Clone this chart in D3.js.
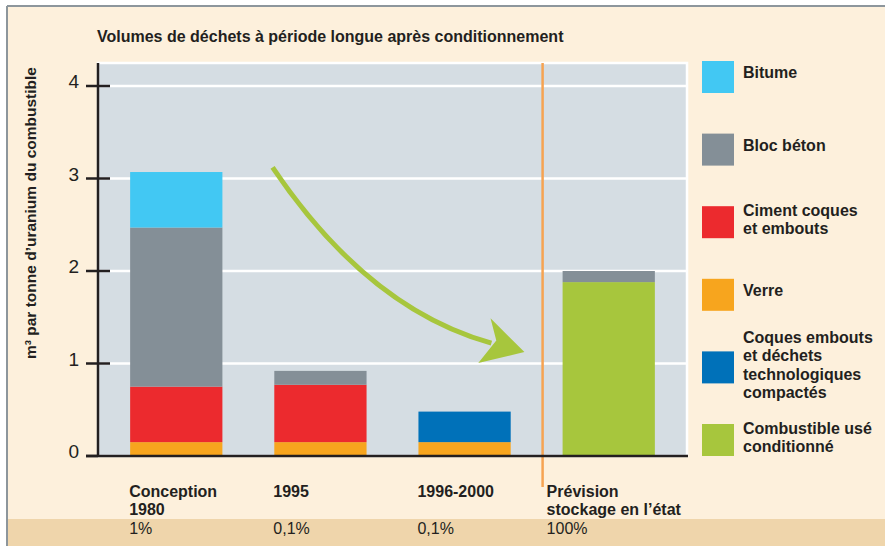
<!DOCTYPE html>
<html>
<head>
<meta charset="utf-8">
<script src="https://cdn.jsdelivr.net/npm/d3@7"></script>
<style>
  body { margin: 0; background: #fff; }
  svg { display: block; font-family: "Liberation Sans", Arial, sans-serif; }
</style>
</head>
<body>
<div id="chart"></div>
<script>
// chart data
const categories = ["Conception 1980", "1995", "1996-2000", "Prévision stockage en l’état"];
const categoryLines = [["Conception", "1980"], ["1995"], ["1996-2000"], ["Prévision", "stockage en l’état"]];
const shares = ["1%", "0,1%", "0,1%", "100%"];

// m3 per tonne, bottom to top of each stack
const verre = [0.15, 0.15, 0.15, 0];
const ciment = [0.6, 0.62, 0, 0];
const coques = [0, 0, 0.33, 0];
const combustible = [0, 0, 0, 1.88];
const blocBeton = [1.72, 0.15, 0, 0.12];
const bitume = [0.6, 0, 0, 0];

const yTicks = [0, 1, 2, 3, 4];

const seriesNames = ["Verre", "Ciment coques et embouts", "Coques embouts et déchets technologiques compactés",
  "Combustible usé conditionné", "Bloc béton", "Bitume"];
const seriesValues = [verre, ciment, coques, combustible, blocBeton, bitume];
const seriesColors = ["#f7a51e", "#ec2a2e", "#0071b9", "#a7c63d", "#848f97", "#42c8f3"];

// legend, top to bottom
const legendItems = [
  { name: "Bitume", lines: ["Bitume"] },
  { name: "Bloc béton", lines: ["Bloc béton"] },
  { name: "Ciment coques et embouts", lines: ["Ciment coques", "et embouts"] },
  { name: "Verre", lines: ["Verre"] },
  { name: "Coques embouts et déchets technologiques compactés", lines: ["Coques embouts", "et déchets", "technologiques", "compactés"] },
  { name: "Combustible usé conditionné", lines: ["Combustible usé", "conditionné"] }
];

const title = "Volumes de déchets à période longue après conditionnement";
const yTitle = "m³ par tonne d’uranium du combustible";

const W = 885, H = 546;
const ink = "#231f20";

const svg = d3.select("#chart").append("svg")
  .attr("width", W)
  .attr("height", H);

// background, bottom band and frame
svg.append("rect").attr("x", 7).attr("y", 6).attr("width", W - 7).attr("height", H - 6).attr("fill", "#fdf0dc");
svg.append("rect").attr("x", 8).attr("y", 519).attr("width", W - 8).attr("height", H - 519).attr("fill", "#efd5ab");
svg.append("line").attr("x1", 7).attr("x2", W).attr("y1", 6).attr("y2", 6).attr("stroke", "#8d969c").attr("stroke-width", 2);
svg.append("line").attr("x1", 7).attr("x2", 7).attr("y1", 6).attr("y2", H).attr("stroke", "#8d969c").attr("stroke-width", 2);

// scales
const plotLeft = 98, plotRight = 687, plotTop = 63;
const x = d3.scaleBand().domain(categories).range([plotLeft, plotRight])
  .paddingInner(0.36).paddingOuter(0.223);
const y = d3.scaleLinear().domain([0, 4]).range([456, 86]);
const color = d3.scaleOrdinal().domain(seriesNames).range(seriesColors);

// plot panel
svg.append("rect")
  .attr("x", plotLeft).attr("y", plotTop)
  .attr("width", plotRight - plotLeft).attr("height", y(0) - plotTop)
  .attr("fill", "#d5dde3").attr("stroke", "#fff").attr("stroke-width", 2.5);

// gridlines
svg.append("g").selectAll("line")
  .data(yTicks.filter(d => d > 0))
  .join("line")
  .attr("x1", plotLeft).attr("x2", plotRight)
  .attr("y1", d => y(d)).attr("y2", d => y(d))
  .attr("stroke", "#fff").attr("stroke-width", 2.5);

// stacked bars
const table = categories.map((c, i) => {
  const row = { category: c };
  seriesNames.forEach((s, k) => { row[s] = seriesValues[k][i]; });
  return row;
});
const stacked = d3.stack().keys(seriesNames)(table);

svg.append("g").selectAll("g")
  .data(stacked)
  .join("g")
  .attr("fill", d => color(d.key))
  .selectAll("rect")
  .data(d => d.filter(p => p[1] - p[0] > 0))
  .join("rect")
  .attr("x", d => x(d.data.category))
  .attr("width", x.bandwidth())
  .attr("y", d => y(d[1]))
  .attr("height", d => y(d[0]) - y(d[1]));

// separator before forecast column
const sepX = x(categories[3]) - 20;
svg.append("line")
  .attr("x1", sepX).attr("x2", sepX)
  .attr("y1", plotTop).attr("y2", 487)
  .attr("stroke", "#f6a352").attr("stroke-width", 2.5);

// trend arrow, positioned in category index / value units
const xi = d3.scaleLinear().domain([0, 3])
  .range([x(categories[0]) + x.bandwidth() / 2, x(categories[3]) + x.bandwidth() / 2]);
const arrowCurve = [[0.668, 3.12], [1.33, 1.59], [2.186, 1.22]];
const arrowHead = [[2.18, 1.49], [2.415, 1.124], [2.095, 1.005], [2.22, 1.25]];
const p = d3.path();
p.moveTo(xi(arrowCurve[0][0]), y(arrowCurve[0][1]));
p.quadraticCurveTo(xi(arrowCurve[1][0]), y(arrowCurve[1][1]), xi(arrowCurve[2][0]), y(arrowCurve[2][1]));
svg.append("path").attr("d", p.toString())
  .attr("fill", "none").attr("stroke", "#a7c63d").attr("stroke-width", 5);
svg.append("path")
  .attr("d", d3.line().x(d => xi(d[0])).y(d => y(d[1]))(arrowHead) + "Z")
  .attr("fill", "#a7c63d");

// y axis
const yAxis = svg.append("g");
yAxis.append("line")
  .attr("x1", plotLeft).attr("x2", plotLeft)
  .attr("y1", plotTop).attr("y2", y(0))
  .attr("stroke", ink).attr("stroke-width", 2.5);
yAxis.selectAll("line.tick")
  .data(yTicks)
  .join("line")
  .attr("class", "tick")
  .attr("x1", 86).attr("x2", d => d === 0 ? plotLeft : 110)
  .attr("y1", d => y(d)).attr("y2", d => y(d))
  .attr("stroke", ink).attr("stroke-width", 2.5);
yAxis.selectAll("text")
  .data(yTicks)
  .join("text")
  .attr("x", 79).attr("y", d => y(d) + 2)
  .attr("text-anchor", "end")
  .attr("font-size", 19)
  .attr("fill", ink)
  .text(d => d);

// baseline
svg.append("line")
  .attr("x1", 86).attr("x2", plotRight + 1)
  .attr("y1", y(0)).attr("y2", y(0))
  .attr("stroke", ink).attr("stroke-width", 2.5);

// titles
svg.append("text")
  .attr("x", 97).attr("y", 42)
  .attr("font-size", 16).attr("font-weight", "bold").attr("fill", ink)
  .text(title);
svg.append("text")
  .attr("transform", "translate(36,213) rotate(-90)")
  .attr("text-anchor", "middle")
  .attr("font-size", 15.5).attr("font-weight", "bold").attr("fill", ink)
  .text(yTitle);

// category labels and shares
const labelX = (c, i) => i === 3 ? sepX + 4 : x(c) - 1;
const catG = svg.append("g").selectAll("text")
  .data(categories)
  .join("text")
  .attr("x", labelX)
  .attr("y", 497)
  .attr("font-size", 16).attr("font-weight", "bold").attr("fill", ink);
catG.selectAll("tspan")
  .data((c, i) => categoryLines[i].map(t => ({ t, x: labelX(c, i) })))
  .join("tspan")
  .attr("x", d => d.x)
  .attr("dy", (d, j) => j === 0 ? 0 : 18)
  .text(d => d.t);

svg.append("g").selectAll("text")
  .data(categories)
  .join("text")
  .attr("x", labelX)
  .attr("y", 534)
  .attr("font-size", 16).attr("fill", ink)
  .text((c, i) => shares[i]);

// legend
const ly = d3.scaleLinear().domain([0, legendItems.length - 1]).range([61, 424]);
const lineH = 18.5;
const leg = svg.append("g").selectAll("g")
  .data(legendItems)
  .join("g")
  .attr("transform", (d, i) => `translate(702,${ly(i)})`);
leg.append("rect")
  .attr("width", 32).attr("height", 32)
  .attr("fill", d => color(d.name));
leg.append("text")
  .attr("font-size", 16).attr("font-weight", "bold").attr("fill", ink)
  .attr("y", d => 19 - (d.lines.length - 1) * lineH / 2 - (d.lines.length === 1 ? 2 : 0))
  .selectAll("tspan")
  .data(d => d.lines)
  .join("tspan")
  .attr("x", 41)
  .attr("dy", (d, j) => j === 0 ? 0 : lineH)
  .text(d => d);
</script>
</body>
</html>
